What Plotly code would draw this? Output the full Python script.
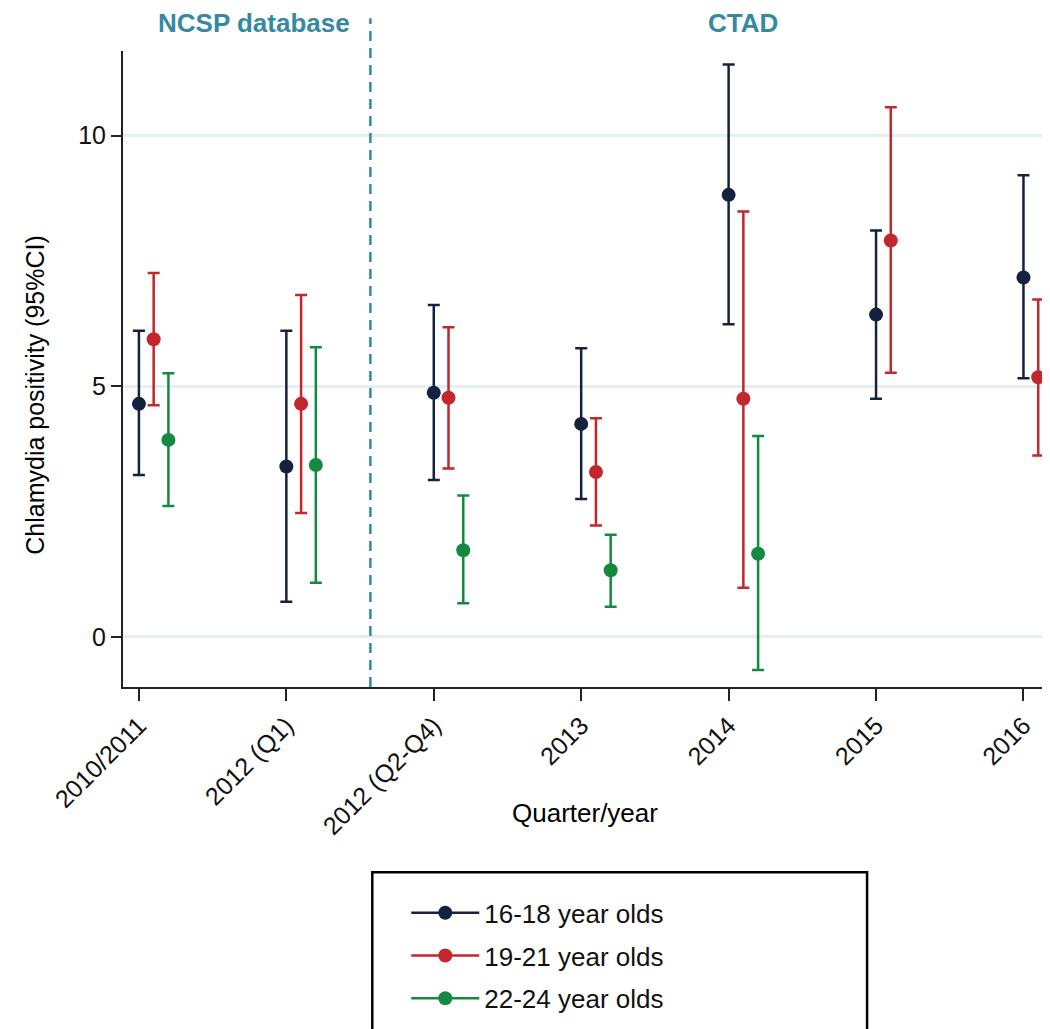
import plotly.graph_objects as go

categories = ["2010/2011", "2012 (Q1)", "2012 (Q2-Q4)", "2013", "2014", "2015", "2016"]

series_names = ["16-18 year olds", "19-21 year olds", "22-24 year olds"]

# 16-18 year olds
est_1618 = [4.65, 3.40, 4.87, 4.25, 8.82, 6.43, 7.17]
lo_1618 = [3.23, 0.70, 3.13, 2.75, 6.24, 4.75, 5.16]
hi_1618 = [6.11, 6.11, 6.62, 5.76, 11.42, 8.11, 9.21]

# 19-21 year olds
est_1921 = [5.94, 4.65, 4.77, 3.29, 4.75, 7.91, 5.18]
lo_1921 = [4.62, 2.47, 3.36, 2.22, 0.98, 5.27, 3.62]
hi_1921 = [7.26, 6.82, 6.18, 4.36, 8.49, 10.57, 6.73]

# 22-24 year olds (no data for 2015, 2016)
est_2224 = [3.93, 3.43, 1.73, 1.33, 1.66, None, None]
lo_2224 = [2.61, 1.08, 0.67, 0.60, -0.66, None, None]
hi_2224 = [5.26, 5.78, 2.82, 2.04, 4.01, None, None]

offsets = [0.0, 0.1, 0.2]
colors = ["#15223f", "#c1272d", "#138a3f"]
teal = "#3589a3"

# dashed separator position (category units) and section labels
separator_x = 1.57
section_labels = [("NCSP database", 0.783), ("CTAD", 4.10)]

y_ticks = [0, 5, 10]

FONT = "Liberation Sans, Arial, sans-serif"

fig = go.Figure()

all_series = [
    (est_1618, lo_1618, hi_1618),
    (est_1921, lo_1921, hi_1921),
    (est_2224, lo_2224, hi_2224),
]

for i, (est, lo, hi) in enumerate(all_series):
    xs, ys, ep, em = [], [], [], []
    for j, v in enumerate(est):
        if v is None:
            continue
        xs.append(j + offsets[i])
        ys.append(v)
        ep.append(hi[j] - v)
        em.append(v - lo[j])
    fig.add_trace(go.Scatter(
        x=xs, y=ys, mode="markers",
        marker=dict(color=colors[i], size=14),
        error_y=dict(type="data", symmetric=False, array=ep, arrayminus=em,
                     color=colors[i], thickness=2.5, width=6),
        showlegend=False, hoverinfo="skip",
    ))
    # legend entry
    fig.add_trace(go.Scatter(
        x=[None], y=[None], mode="lines+markers", name=series_names[i],
        marker=dict(color=colors[i], size=14),
        line=dict(color=colors[i], width=2.5),
        legendgroup=f"g{i}", showlegend=True,
    ))

OFF = 8  # page body margin
W, H = 1050 - OFF, 1029 - OFF
L, T = 122.6 - OFF, 50.7 - OFF
PLOT_BOTTOM = 686.7 - OFF
R, B = 0, H - PLOT_BOTTOM
pw, ph = W - L - R, H - T - B

def px_x(p):
    return (p - OFF - L) / pw

def px_y(p):
    return (PLOT_BOTTOM - (p - OFF)) / ph

fig.add_shape(type="line", xref="x", yref="paper",
              x0=separator_x, x1=separator_x, y0=0, y1=px_y(18),
              line=dict(color=teal, width=2.5, dash="10px,7px"))

# legend frame
fig.add_shape(type="path", xref="paper", yref="paper",
              path=f"M {px_x(372)} {px_y(1045)} L {px_x(372)} {px_y(872)} L {px_x(867)} {px_y(872)} L {px_x(867)} {px_y(1045)}",
              line=dict(color="black", width=2.5))

for text, xpos in section_labels:
    fig.add_annotation(x=xpos, xref="x", y=px_y(23), yref="paper",
                       text=f"<b>{text}</b>", showarrow=False, borderpad=0,
                       font=dict(family=FONT, size=26, color=teal),
                       xanchor="center", yanchor="middle")

fig.add_annotation(x=px_x(35), y=px_y(394), xref="paper", yref="paper",
                   text="Chlamydia positivity (95%CI)", textangle=-90,
                   showarrow=False, font=dict(family=FONT, size=25, color="black"),
                   xanchor="center", yanchor="middle")

fig.add_annotation(x=px_x(585), y=px_y(813), xref="paper", yref="paper",
                   text="Quarter/year", showarrow=False,
                   font=dict(family=FONT, size=26, color="black"),
                   xanchor="center", yanchor="middle")

fig.update_layout(
    width=W, height=H,
    margin=dict(l=L, r=R, t=T, b=B, pad=0),
    paper_bgcolor="white", plot_bgcolor="white",
    font=dict(family=FONT, size=26, color="black"),
    xaxis=dict(
        range=[-0.108, 6.18], tickmode="array",
        tickvals=list(range(len(categories))), ticktext=categories,
        tickangle=-45, ticks="outside", ticklen=12, tickwidth=1.5,
        tickcolor="#222", showline=True, linecolor="#222", linewidth=2,
        showgrid=False, zeroline=False, mirror=False,
        tickfont=dict(family=FONT, size=25, color="#111"),
    ),
    yaxis=dict(
        range=[-1.0, 11.69], tickmode="array", tickvals=y_ticks,
        ticks="outside", ticklen=10, tickwidth=1.5, tickcolor="#222",
        showline=True, linecolor="#222", linewidth=2,
        showgrid=True, gridcolor="#e5eef1", gridwidth=2.5, zeroline=False,
        tickfont=dict(family=FONT, size=25, color="#111"),
    ),
    legend=dict(
        x=px_x(406), y=px_y(889), xanchor="left", yanchor="top",
        bgcolor="rgba(0,0,0,0)", borderwidth=0,
        font=dict(family=FONT, size=26, color="#111"),
        traceorder="grouped", tracegroupgap=6, itemwidth=68,
    ),
)

fig.write_html("out.html")
